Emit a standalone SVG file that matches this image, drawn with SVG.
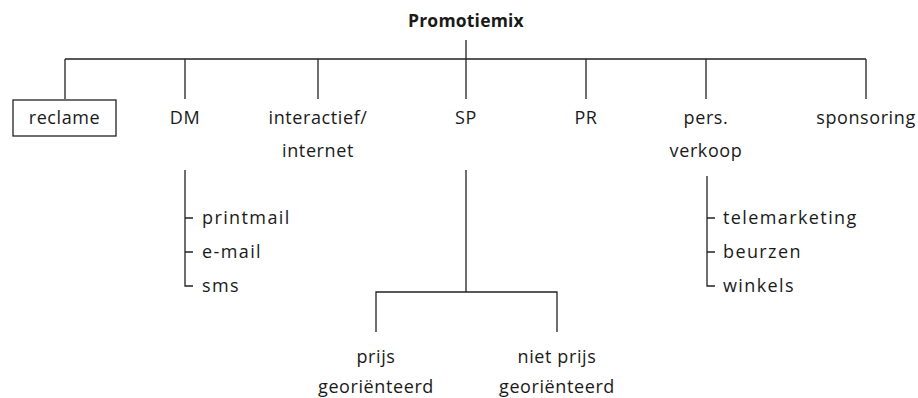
<svg xmlns="http://www.w3.org/2000/svg" width="918" height="398" viewBox="0 0 918 398">
<style>
text{font-family:"Open Sans","Liberation Sans",sans-serif;font-size:18px;fill:#1a1a1a;letter-spacing:0.6px}
.c{text-anchor:middle}
.s{letter-spacing:1.4px}
.b{font-weight:bold;font-size:17.5px;letter-spacing:0.2px}
.ln{stroke:#222;stroke-width:1.3;fill:none}
</style>
<rect width="918" height="398" fill="#fff"/>
<g id="connectors" class="ln">
<path d="M466 40V59M65 59H866M65 59V99M185 59V99M318 59V99M466 59V99M586 59V99M706 59V99M866 59V99"/>
<path d="M185 170V286H193M185 218H193M185 252H193"/>
<path d="M466 170V292M376 332V292H557V332"/>
<path d="M707 176V286H715M707 218H715M707 252H715"/>
</g>
<g id="promotiemix"><text class="c b" x="466" y="26.5">Promotiemix</text></g>
<g id="reclame"><rect x="13" y="100" width="103" height="36" fill="none" stroke="#222" stroke-width="1.3"/><text class="c" x="64.5" y="124">reclame</text></g>
<g id="dm"><text class="c" x="185" y="124">DM</text></g>
<g id="interactief"><text class="c" x="318" y="124">interactief/</text><text class="c" x="318" y="157">internet</text></g>
<g id="sp"><text class="c" x="466" y="124">SP</text></g>
<g id="pr"><text class="c" x="586" y="124">PR</text></g>
<g id="pers"><text class="c" x="706" y="124">pers.</text><text class="c" x="706" y="157">verkoop</text></g>
<g id="sponsoring"><text class="c" x="866" y="124">sponsoring</text></g>
<g id="printmail"><text class="s" x="202" y="224">printmail</text></g>
<g id="email"><text class="s" x="202" y="258">e-mail</text></g>
<g id="sms"><text class="s" x="202" y="292">sms</text></g>
<g id="telemarketing"><text class="s" x="723" y="224">telemarketing</text></g>
<g id="beurzen"><text class="s" x="723" y="258">beurzen</text></g>
<g id="winkels"><text class="s" x="723" y="292">winkels</text></g>
<g id="prijs"><text class="c" x="376" y="363">prijs</text><text class="c" x="376" y="393">georiënteerd</text></g>
<g id="nietprijs"><text class="c" x="557" y="363">niet prijs</text><text class="c" x="557" y="393">georiënteerd</text></g>
</svg>
